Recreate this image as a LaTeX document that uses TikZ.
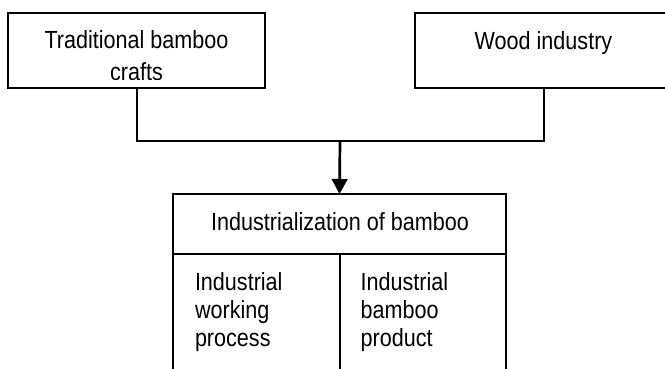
\documentclass[tikz,border=0pt]{standalone}
\usepackage{fontspec}
\setmainfont{Liberation Sans}[FakeStretch=0.87]
\usetikzlibrary{arrows.meta}
\begin{document}
\begin{tikzpicture}[x=1pt,y=-1pt,
  box/.style={draw=black,line width=2pt,inner sep=0pt,outer sep=0pt,minimum width=#1},
  txt/.style={inner sep=0pt,outer sep=0pt,anchor=base,font=\fontsize{24.8}{28.3}\selectfont},
  txtl/.style={txt,anchor=base west},
  conn/.style={line width=2pt},
  arr/.style={line width=2.7pt,-{Triangle[length=15pt,width=15.6pt]}}]
\useasboundingbox (0,0) rectangle (665,369);
% top boxes
\node[box=257pt,minimum height=75pt] (trad) at (136.5,50.5) {};
\node[box=257pt,minimum height=75pt] (wood) at (543.5,50.5) {};
\node[txt] (tradA) at (136.5,48.3) {Traditional bamboo};
\begin{scope}
\clip (10,60) rectangle (263,79.3);
\node[txt] (tradB) at (136.5,80.8) {crafts};
\end{scope}
\node[txt] (woodA) at (543.5,50) {Wood industry};
% bottom structure
\node[box=333pt,minimum height=60pt] (title) at (339.5,224) {};
\node[box=167pt,minimum height=122pt] (cellL) at (256.5,315) {};
\node[box=166pt,minimum height=122pt] (cellR) at (423,315) {};
\node[txt] (titleT) at (340,230) {Industrialization of bamboo};
\node[txtl] (l1) at (195,290) {Industrial};
\node[txtl] (l2) at (195,318.3) {working};
\node[txtl] (l3) at (195,346.6) {process};
\node[txtl] (r1) at (360.7,290) {Industrial};
\node[txtl] (r2) at (360.7,318.3) {bamboo};
\node[txtl] (r3) at (360.7,346.6) {product};
% connectors
\coordinate (junc) at (340,141.5);
\draw[conn] (trad.south) |- (junc) -| (wood.south);
\draw[arr] (junc) -- (title.north);
\end{tikzpicture}
\end{document}
